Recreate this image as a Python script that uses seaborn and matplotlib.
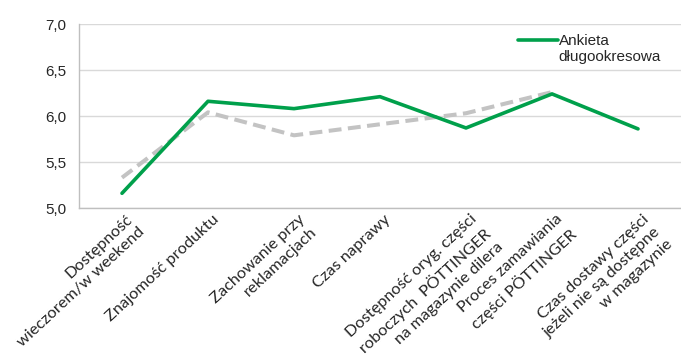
import numpy as np
import matplotlib
matplotlib.use("Agg")
import matplotlib.pyplot as plt
import matplotlib.transforms as mtransforms
from matplotlib.ticker import FuncFormatter
import seaborn as sns

categories = [
    "Dostępność\nwieczorem/w weekend",
    "Znajomość produktu",
    "Zachowanie przy\nreklamacjach",
    "Czas naprawy",
    "Dostępność oryg. części\nroboczych  PÖTTINGER\nna magazynie dilera",
    "Proces zamawiania\nczęści PÖTTINGER",
    "Czas dostawy części\njeżeli nie są dostępne\nw magazynie",
]
long_term = [5.16, 6.16, 6.08, 6.21, 5.87, 6.24, 5.86]
previous = [5.33, 6.04, 5.79, 5.91, 6.03, 6.26]
legend_label = "Ankieta\ndługookresowa"
y_ticks = [5.0, 5.5, 6.0, 6.5, 7.0]

sns.set_style("white")
plt.rcParams["font.family"] = ["Liberation Sans", "DejaVu Sans"]

fig = plt.figure(figsize=(6.81, 3.55), dpi=100)
ax = fig.add_axes([79 / 681, 147 / 355, 602 / 681, 184 / 355])

# dashed grey series first so the green one sits on top
sns.lineplot(x=categories[:len(previous)], y=previous, ax=ax, sort=False,
             color="#C3C3C3", linewidth=2.9, dashes=False, zorder=2)
ax.lines[-1].set_dashes((3.2, 1.6))
sns.lineplot(x=categories, y=long_term, ax=ax, sort=False,
             color="#00A04B", linewidth=2.6, label=legend_label, zorder=3)

ax.set_ylim(5.0, 7.0)
ax.set_yticks(y_ticks)
ax.yaxis.set_major_formatter(FuncFormatter(lambda v, _: f"{v:.1f}".replace(".", ",")))
ax.set_xlim(-0.5, -0.5 + 602 / 88.3)

ax.grid(axis="y", color="#D9D9D9", linewidth=1.0)
ax.grid(axis="x", visible=False)
for side in ["top", "right"]:
    ax.spines[side].set_visible(False)
for side in ["left", "bottom"]:
    ax.spines[side].set_color("#BFBFBF")
    ax.spines[side].set_linewidth(1.0)

ax.tick_params(axis="y", length=0, pad=9, labelsize=11, labelcolor="#262626")
ax.set_xticks(range(len(categories)))
ax.set_xticklabels(categories, rotation=43, ha="right", va="top",
                   rotation_mode="anchor", multialignment="right",
                   fontfamily="Lato", fontsize=11.8, color="#262626")
for lbl in ax.get_xticklabels():
    lbl.set_linespacing(1.3)
ax.tick_params(axis="x", which="major", length=0, pad=3)
ax.set_xticks(np.arange(-0.5, len(categories)), minor=True)
ax.tick_params(axis="x", which="minor", length=4, color="#BFBFBF", width=1)

shift = mtransforms.ScaledTranslation(4 / 100, 0, fig.dpi_scale_trans)
for lbl in ax.get_xticklabels():
    lbl.set_transform(lbl.get_transform() + shift)

ax.set_xlabel("")
ax.set_ylabel("")

leg = ax.legend(loc="upper left", bbox_to_anchor=(0.707, 1.02), frameon=False,
                fontsize=11, handlelength=2.6, handletextpad=0.05,
                labelcolor="#262626")
leg_line = leg.get_lines()[0]
leg_line.set_ydata(np.asarray(leg_line.get_ydata()) + 6.5)

fig.savefig("out.png", dpi=100)
